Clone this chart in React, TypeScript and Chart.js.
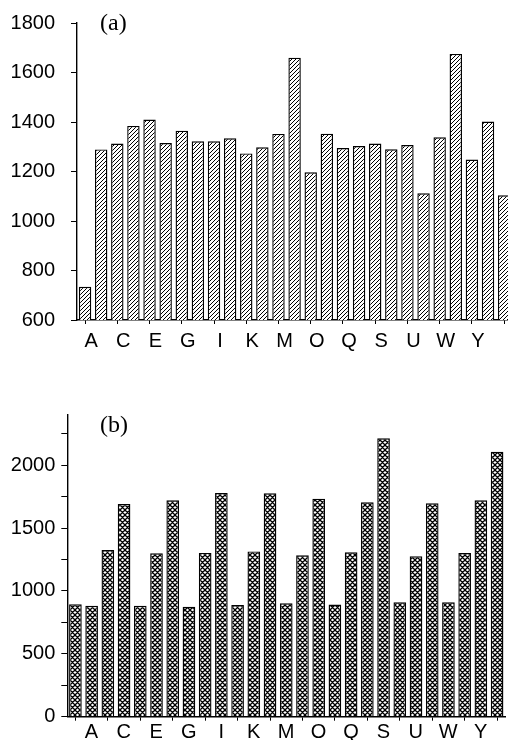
import React, { useEffect, useRef } from "react";
import { Chart, registerables } from "chart.js";

Chart.register(...registerables);

// ---- data ----
const categories: string[] = [
  "A", "B", "C", "D", "E", "F", "G", "H", "I", "J", "K", "L", "M", "N",
  "O", "P", "Q", "R", "S", "T", "U", "V", "W", "X", "Y", "Z", "",
];
const seriesA: number[] = [
  734, 1289, 1313, 1384, 1410, 1315, 1365, 1322, 1322, 1334, 1273, 1298, 1352,
  1660, 1197, 1353, 1295, 1303, 1313, 1290, 1307, 1112, 1338, 1675, 1248, 1402, 1104,
];
const seriesB: number[] = [
  893, 882, 1325, 1691, 882, 1299, 1720, 875, 1302, 1778, 887, 1314, 1776,
  901, 1283, 1733, 892, 1307, 1704, 2213, 909, 1275, 1696, 909, 1301, 1720, 2107,
];
const yRangeA = { min: 600, max: 1800, step: 100, labelEvery: 200 };
const yRangeB = { min: 0, max: 2400, step: 250, labelEvery: 500 };
const panelTitles = ["(a)", "(b)"];

function makeHatch(size: number, cross: boolean, lw: number): CanvasPattern | string {
  const c = document.createElement("canvas");
  c.width = size;
  c.height = size;
  const g = c.getContext("2d");
  if (!g) return "#fff";
  g.fillStyle = "#fff";
  g.fillRect(0, 0, size, size);
  g.strokeStyle = "#000";
  g.lineWidth = lw;
  g.beginPath();
  g.moveTo(0, size);
  g.lineTo(size, 0);
  g.moveTo(-1, 1);
  g.lineTo(1, -1);
  g.moveTo(size - 1, size + 1);
  g.lineTo(size + 1, size - 1);
  if (cross) {
    g.moveTo(0, 0);
    g.lineTo(size, size);
    g.moveTo(-1, size - 1);
    g.lineTo(1, size + 1);
    g.moveTo(size - 1, -1);
    g.lineTo(size + 1, 1);
  }
  g.stroke();
  return g.createPattern(c, "repeat") || "#fff";
}

const FONT = "'Liberation Sans', Arial, Helvetica, sans-serif";

function buildConfig(opts: {
  data: number[];
  range: { min: number; max: number; step: number; labelEvery: number };
  pattern: CanvasPattern | string;
  title: string;
  titleX: number;
  titleY: number;
  yWidth: number;
  yTickLen: number;
  yPad: number;
  xHeight: number;
  xPad: number;
  labelOffset: number;
  padTop: number;
  padRight: number;
  barPct: number;
}): any {
  const titlePlugin = {
    id: "panelTitle",
    afterDraw(chart: any) {
      const ctx = chart.ctx;
      ctx.save();
      ctx.fillStyle = "#000";
      ctx.font = "24px 'Liberation Serif', 'Times New Roman', serif";
      ctx.textBaseline = "alphabetic";
      ctx.textAlign = "left";
      ctx.fillText(opts.title, opts.titleX, opts.titleY);
      ctx.restore();
    },
  };
  return {
    type: "bar",
    data: {
      labels: categories,
      datasets: [
        {
          data: opts.data,
          backgroundColor: opts.pattern,
          borderColor: "#000",
          borderWidth: 1.4,
          borderSkipped: "bottom",
          categoryPercentage: 1,
          barPercentage: opts.barPct,
        },
      ],
    },
    plugins: [titlePlugin],
    options: {
      responsive: false,
      animation: false,
      events: [],
      layout: { padding: { left: 0, right: opts.padRight, top: opts.padTop, bottom: 0 } },
      plugins: { legend: { display: false }, tooltip: { enabled: false }, title: { display: false } },
      scales: {
        x: {
          type: "category",
          offset: true,
          afterFit(scale: any) {
            scale.height = opts.xHeight;
          },
          border: { display: true, color: "#000", width: 1.4 },
          grid: {
            display: true,
            offset: false,
            drawOnChartArea: false,
            drawTicks: true,
            tickLength: 4,
            tickWidth: 1,
            tickColor: (ctx: any) => (ctx.index % 2 === 0 ? "#000" : "rgba(0,0,0,0)"),
          },
          ticks: {
            autoSkip: false,
            maxRotation: 0,
            minRotation: 0,
            padding: opts.xPad,
            labelOffset: opts.labelOffset,
            color: "#000",
            font: { family: FONT, size: 20 },
            callback: (_v: any, i: number) => (i % 2 === 0 ? categories[i] : ""),
          },
        },
        y: {
          type: "linear",
          min: opts.range.min,
          max: opts.range.max,
          afterFit(scale: any) {
            scale.width = opts.yWidth;
          },
          border: { display: true, color: "#000", width: 1.4 },
          grid: {
            display: true,
            drawOnChartArea: false,
            drawTicks: true,
            tickLength: opts.yTickLen,
            tickWidth: 1,
            tickColor: "#000",
          },
          ticks: {
            stepSize: opts.range.step,
            includeBounds: false,
            padding: opts.yPad,
            color: "#000",
            font: { family: FONT, size: 20 },
            callback: (v: any) => (Number(v) % opts.range.labelEvery === 0 ? String(v) : ""),
          },
        },
      },
    },
  };
}

export default function App() {
  const refA = useRef<HTMLCanvasElement | null>(null);
  const refB = useRef<HTMLCanvasElement | null>(null);

  useEffect(() => {
    if (!refA.current || !refB.current) return;
    const chartA = new Chart(
      refA.current,
      buildConfig({
        data: seriesA,
        range: yRangeA,
        pattern: makeHatch(4, false, 1),
        title: panelTitles[0],
        titleX: 100,
        titleY: 35.3,
        yWidth: 77,
        yTickLen: 6,
        yPad: 16,
        xHeight: 40,
        xPad: 5,
        labelOffset: 6,
        padTop: 28,
        padRight: 7.8,
        barPct: 0.77,
      })
    );
    const chartB = new Chart(
      refB.current,
      buildConfig({
        data: seriesB,
        range: yRangeB,
        pattern: makeHatch(5, true, 1.3),
        title: panelTitles[1],
        titleX: 100,
        titleY: 61.5,
        yWidth: 67.3,
        yTickLen: 6,
        yPad: 6,
        xHeight: 23.3,
        xPad: 0,
        labelOffset: 16,
        padTop: 44.8,
        padRight: 14.8,
        barPct: 0.78,
      })
    );
    return () => {
      chartA.destroy();
      chartB.destroy();
    };
  }, []);

  return (
    <div
      style={{
        position: "absolute",
        left: 0,
        top: 0,
        width: 508,
        height: 740,
        overflow: "hidden",
        background: "#fff",
      }}
    >
      <canvas
        ref={refA}
        width={520}
        height={365}
        style={{ position: "absolute", left: 0, top: -5.3, width: 520, height: 365 }}
      />
      <canvas
        ref={refB}
        width={520}
        height={370}
        style={{ position: "absolute", left: 0, top: 370, width: 520, height: 370 }}
      />
    </div>
  );
}
